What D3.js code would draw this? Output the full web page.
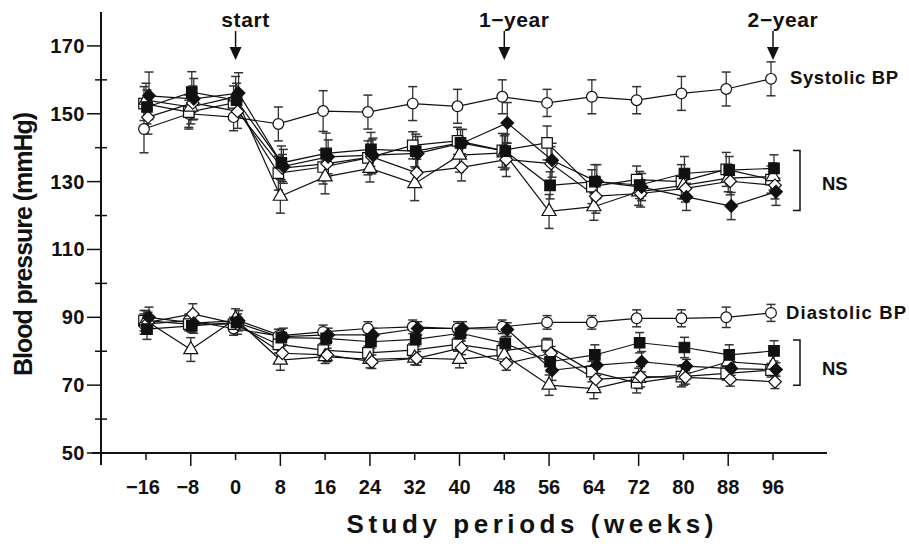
<!DOCTYPE html>
<html>
<head>
<meta charset="utf-8">
<script src="https://cdn.jsdelivr.net/npm/d3@7"></script>
<style>
  body { margin: 0; background: #fff; }
  text { font-family: "Liberation Sans", Arial, sans-serif; font-weight: bold; fill: #111; }
</style>
</head>
<body>
<script>
// study weeks on the x axis
var weeks = [-16, -8, 0, 8, 16, 24, 32, 40, 48, 56, 64, 72, 80, 88, 96];
var yTicks = [50, 70, 90, 110, 130, 150, 170];

// systolic BP, mean per group
var sysCircle   = [145.5, 150, 149, 147, 150.8, 150.5, 153, 152.2, 155, 153.2, 155, 154, 156, 157.3, 160.3];
var sysFSquare  = [152, 156.4, 154, 135.5, 138.3, 139.5, 139, 141.4, 139, 128.9, 130, 129, 132.4, 133.4, 133.9];
var sysFDiamond = [155.3, 154.4, 156.1, 134.5, 137.3, 137.8, 138.3, 141.4, 147.3, 136.3, 130, 128.4, 125.5, 122.8, 127];
var sysOSquare  = [153, 150.5, 153.2, 132.5, 134.3, 137, 140.7, 142, 139.2, 141.4, 128.5, 130.6, 130, 133.6, 130.6];
var sysODiamond = [149, 153.2, 150.7, 134, 135.3, 137.3, 132.6, 134.2, 136.5, 135.3, 125.7, 126.5, 128, 130.1, 128.9];
var sysTriangle = [154, 152, 155, 125.7, 131.4, 133.9, 129.4, 137.8, 138.5, 121.2, 122.6, 127, 128.9, 131, 131.5];

// systolic error bars (SE)
var sysCircleErr   = [7, 4, 4, 5, 6, 5, 5, 5, 5, 4, 5, 4, 5, 5, 5];
var sysFSquareErr  = [5, 6, 5, 5, 6, 5, 5, 4, 5, 4, 5, 4, 5, 4, 4];
var sysFDiamondErr = [7, 6, 6, 5, 5, 5, 5, 4, 6, 5, 5, 4, 4, 4, 4];
var sysOSquareErr  = [5, 5, 5, 5, 5, 5, 4, 4, 5, 5, 5, 4, 5, 5, 4];
var sysODiamondErr = [5, 5, 5, 4, 4, 5, 4, 4, 5, 5, 5, 4, 4, 4, 4];
var sysTriangleErr = [5, 5, 6, 5, 5, 4, 5, 5, 5, 5, 4, 4, 4, 4, 4];

// diastolic BP, mean per group
var diaCircle   = [88, 89, 86.7, 84.5, 85.7, 86.7, 87.2, 86.7, 87.2, 88.5, 88.5, 89.7, 89.7, 90, 91.3];
var diaFSquare  = [86.5, 87.5, 88.5, 84, 83.8, 82.8, 83.5, 85.3, 82.3, 76.9, 78.9, 82.5, 81.1, 78.9, 80.1];
var diaFDiamond = [90, 88.3, 89, 84.3, 84.8, 84.8, 86.7, 86.7, 86.4, 74.4, 75.9, 76.9, 75.6, 74.9, 74.6];
var diaOSquare  = [89, 88, 88, 82, 80.3, 79.5, 80.3, 82, 80.1, 81.8, 74, 70.7, 72.5, 73.5, 74.4];
var diaODiamond = [88.5, 91, 88, 79.4, 78.9, 76.9, 77.9, 81, 76.4, 79.4, 71.7, 72.5, 72.3, 71.7, 71];
var diaTriangle = [89, 80.5, 89.5, 77.4, 78.4, 77.6, 78, 77.6, 78.9, 70, 69, 72, 73, 76.9, 75.9];

var diaCircleErr   = [3, 2, 2, 2, 2, 2, 2, 2, 2, 2, 2, 2.5, 2.5, 3, 2.5];
var diaFSquareErr  = [3, 2, 2, 2.5, 2, 2, 2, 2, 2, 3, 3, 3, 3, 3, 3];
var diaFDiamondErr = [3, 3, 3, 2.5, 2, 2, 2, 2, 2, 3, 3, 3, 2, 2, 2];
var diaOSquareErr  = [3, 2, 2, 2.5, 2, 2, 2, 2, 2, 2, 3, 3, 3, 2, 2];
var diaODiamondErr = [3, 3, 3, 2.5, 2, 2, 2, 2, 2, 2, 3, 3, 2, 2, 2];
var diaTriangleErr = [3, 3.5, 3, 3, 2, 2.5, 2, 2.5, 2.5, 3, 3, 3, 3, 3, 3];

var annotations = [["start", 0], ["1\u2212year", 48], ["2\u2212year", 96]];

//build the groups from the arrays above
var groups = [
    {marker: "circle",   fill: "#fff", sys: sysCircle,   sysErr: sysCircleErr,   dia: diaCircle,   diaErr: diaCircleErr,   dx: -2},
    {marker: "square",   fill: "#fff", sys: sysOSquare,  sysErr: sysOSquareErr,  dia: diaOSquare,  diaErr: diaOSquareErr,  dx: -2},
    {marker: "triangle", fill: "#fff", sys: sysTriangle, sysErr: sysTriangleErr, dia: diaTriangle, diaErr: diaTriangleErr, dx: 0},
    {marker: "diamond",  fill: "#fff", sys: sysODiamond, sysErr: sysODiamondErr, dia: diaODiamond, diaErr: diaODiamondErr, dx: 2},
    {marker: "square",   fill: "#111", sys: sysFSquare,  sysErr: sysFSquareErr,  dia: diaFSquare,  diaErr: diaFSquareErr,  dx: 1},
    {marker: "diamond",  fill: "#111", sys: sysFDiamond, sysErr: sysFDiamondErr, dia: diaFDiamond, diaErr: diaFDiamondErr, dx: 3}
];

var width = 909,
    height = 549;

var svg = d3.select("body")
    .append("svg")
    .attr("width", width)
    .attr("height", height);

var x = d3.scaleLinear().domain([-16, 96]).range([146, 773]);
var y = d3.scaleLinear().domain([50, 180]).range([453, 12]);

//axes
var axisX0 = 92, axisX1 = 827, axisY = y(50), axisLeft = 101;

svg.append("line")
    .attr("x1", axisX0).attr("x2", axisX1)
    .attr("y1", axisY).attr("y2", axisY)
    .attr("stroke", "#111").attr("stroke-width", 2);

svg.append("line")
    .attr("x1", axisLeft).attr("x2", axisLeft)
    .attr("y1", y(180)).attr("y2", axisY + 12)
    .attr("stroke", "#111").attr("stroke-width", 2);

//x ticks, alternating long and short
svg.selectAll(".xtick")
    .data(weeks)
    .enter()
    .append("line")
    .attr("class", "xtick")
    .attr("x1", function(d){ return x(d); })
    .attr("x2", function(d){ return x(d); })
    .attr("y1", axisY)
    .attr("y2", function(d, i){ return axisY + (i % 2 ? 13 : 7); })
    .attr("stroke", "#111").attr("stroke-width", 1.5);

svg.selectAll(".xlabel")
    .data(weeks)
    .enter()
    .append("text")
    .attr("class", "xlabel")
    .attr("x", function(d){ return x(d) + (d < 0 ? -3 : 0); })
    .attr("y", 494)
    .attr("text-anchor", "middle")
    .attr("font-size", 20)
    .text(function(d){ return d < 0 ? "\u2212" + Math.abs(d) : d; });

//y ticks: labelled every 20, minor in between
var yMinor = d3.range(60, 180, 20);
svg.selectAll(".ytick")
    .data(yTicks)
    .enter()
    .append("line")
    .attr("x1", axisLeft - 14).attr("x2", axisLeft)
    .attr("y1", function(d){ return y(d); })
    .attr("y2", function(d){ return y(d); })
    .attr("stroke", "#111").attr("stroke-width", 1.5);

svg.selectAll(".yminor")
    .data(yMinor)
    .enter()
    .append("line")
    .attr("x1", axisLeft - 6).attr("x2", axisLeft + 6)
    .attr("y1", function(d){ return y(d); })
    .attr("y2", function(d){ return y(d); })
    .attr("stroke", "#111").attr("stroke-width", 1.5);

svg.selectAll(".ylabel")
    .data(yTicks)
    .enter()
    .append("text")
    .attr("x", 85)
    .attr("y", function(d){ return y(d) + 7; })
    .attr("text-anchor", "end")
    .attr("font-size", 20)
    .attr("letter-spacing", 0.5)
    .text(function(d){ return d; });

svg.append("text")
    .attr("transform", "translate(32,244) rotate(-90)")
    .attr("text-anchor", "middle")
    .attr("font-size", 25)
    .attr("textLength", 264)
    .attr("lengthAdjust", "spacing")
    .text("Blood pressure (mmHg)");

svg.append("text")
    .attr("x", 530)
    .attr("y", 533)
    .attr("text-anchor", "middle")
    .attr("font-size", 26)
    .attr("textLength", 367)
    .attr("lengthAdjust", "spacing")
    .text("Study  periods (weeks)");

//arrows on top
annotations.forEach(function(a){
    var ax = x(a[1]);
    svg.append("text")
        .attr("x", ax + 10)
        .attr("y", 27)
        .attr("text-anchor", "middle")
        .attr("font-size", 21)
        .attr("letter-spacing", 0.6)
        .text(a[0]);
    svg.append("line")
        .attr("x1", ax).attr("x2", ax)
        .attr("y1", 31).attr("y2", 50)
        .attr("stroke", "#111").attr("stroke-width", 1.5);
    svg.append("path")
        .attr("d", "M" + (ax - 6) + ",47L" + (ax + 6) + ",47L" + ax + ",60Z")
        .attr("fill", "#111");
});

//lines and error bars
var line = d3.line();

function drawSeries(key, errKey){
    groups.forEach(function(g){
        var pts = weeks.map(function(w, i){ return [x(w) + g.dx, y(g[key][i]), g[errKey][i], g[key][i]]; });

        var eb = svg.append("g").attr("class", "errbars");
        pts.forEach(function(p){
            var top = y(p[3] + p[2]), bot = y(p[3] - p[2]);
            eb.append("line")
                .attr("x1", p[0]).attr("x2", p[0])
                .attr("y1", top).attr("y2", bot)
                .attr("stroke", "#333").attr("stroke-width", 1.3);
            [top, bot].forEach(function(c){
                eb.append("line")
                    .attr("x1", p[0] - 4.5).attr("x2", p[0] + 4.5)
                    .attr("y1", c).attr("y2", c)
                    .attr("stroke", "#333").attr("stroke-width", 1.5);
            });
        });

        svg.append("path")
            .attr("d", line(pts.map(function(p){ return [p[0], p[1]]; })))
            .attr("fill", "none")
            .attr("stroke", "#111")
            .attr("stroke-width", 1.2);
    });
}

function drawMarkers(key){
    groups.forEach(function(g){
        svg.append("g").selectAll("path")
            .data(weeks)
            .enter()
            .append("path")
            .attr("transform", function(w, i){
                var t = "translate(" + (x(w) + g.dx) + "," + y(g[key][i]) + ")";
                return g.marker === "diamond" ? t + " rotate(45)" : t;
            })
            .attr("d", function(){
                if (g.marker === "circle") return d3.symbol(d3.symbolCircle, 90)();
                if (g.marker === "triangle") return d3.symbol(d3.symbolTriangle, 85)();
                if (g.marker === "diamond") return d3.symbol(d3.symbolSquare, 80)();
                return d3.symbol(d3.symbolSquare, 110)();
            })
            .attr("fill", g.fill)
            .attr("stroke", "#111")
            .attr("stroke-width", 1.2);
    });
}

drawSeries("sys", "sysErr");
drawSeries("dia", "diaErr");
drawMarkers("sys");
drawMarkers("dia");

//labels and NS brackets on the right
function bracket(v0, v1){
    svg.append("path")
        .attr("d", "M793," + y(v0) + "H800V" + y(v1) + "H793")
        .attr("fill", "none")
        .attr("stroke", "#111")
        .attr("stroke-width", 1.5);
}
bracket(139.2, 121.5);
bracket(83.3, 70);

svg.append("text").attr("x", 790).attr("y", 84).attr("font-size", 18.5)
    .attr("textLength", 108).attr("lengthAdjust", "spacing").text("Systolic BP");
svg.append("text").attr("x", 822).attr("y", 190).attr("font-size", 18.5).text("NS");
svg.append("text").attr("x", 786).attr("y", 319).attr("font-size", 18.5)
    .attr("textLength", 120).attr("lengthAdjust", "spacing").text("Diastolic BP");
svg.append("text").attr("x", 822).attr("y", 375).attr("font-size", 18.5).text("NS");
</script>
</body>
</html>
